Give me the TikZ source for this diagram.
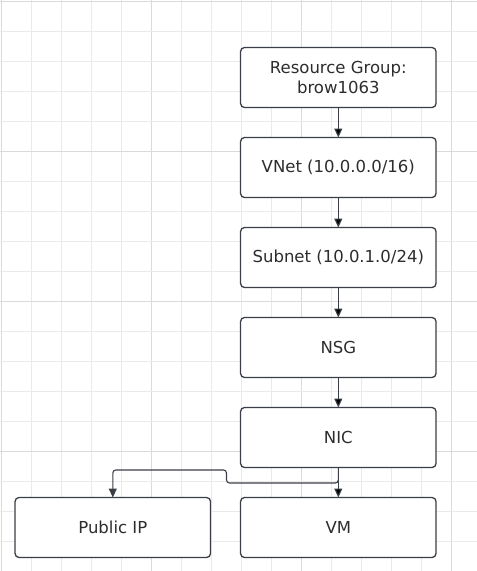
\documentclass[tikz,border=0pt]{standalone}
\usepackage{fontspec}
\setmainfont{DejaVu Sans}
\usetikzlibrary{positioning}
\usetikzlibrary{arrows.meta}
\definecolor{boxline}{RGB}{58,62,70}
\definecolor{boxtext}{RGB}{45,45,45}
\definecolor{minorgrid}{RGB}{234,234,234}
\definecolor{majorgrid}{RGB}{218,218,218}
\def\mybwidth{195.5pt}
\def\mybheight{60pt}
\tikzset{
>={Triangle[length=9pt,width=8pt]}, % filled triangle tips
res box/.style={draw=boxline,line width=1.3pt,rounded corners=4pt,fill=white,
  minimum width=\mybwidth,minimum height=\mybheight,inner sep=1mm,outer sep=0pt,
  text=boxtext,font=\fontsize{16.5}{20}\selectfont,align=center},
res link/.style={draw=boxline,line width=1.1pt,->},
minor line/.style={draw=minorgrid,line width=0.9pt},
major line/.style={draw=majorgrid,line width=1pt},
stack/.style={node distance=30pt}
}

\begin{document}
\begin{tikzpicture}[stack]
\useasboundingbox (0,0) rectangle (477pt,-571pt);
% background grid
\foreach \k in {0,...,15}{
  \pgfmathtruncatemacro{\ismajor}{mod(\k,5)==0}
  \ifnum\ismajor=1 \path[major line] (1pt+30*\k pt,0) -- (1pt+30*\k pt,-571pt);
  \else \path[minor line] (1pt+30*\k pt,0) -- (1pt+30*\k pt,-571pt); \fi
}
\foreach \k in {0,...,19}{
  \pgfmathtruncatemacro{\ismajor}{mod(\k,5)==0}
  \ifnum\ismajor=1 \path[major line] (0,-1.5pt-30*\k pt) -- (477pt,-1.5pt-30*\k pt);
  \else \path[minor line] (0,-1.5pt-30*\k pt) -- (477pt,-1.5pt-30*\k pt); \fi
}
\node[res box] (rg) at (338.3pt,-77.5pt) {Resource Group:\\brow1063};
\node[res box,below=of rg] (vnet) {VNet (10.0.0.0/16)};
\node[res box,below=of vnet] (subnet) {Subnet (10.0.1.0/24)};
\node[res box,below=of subnet] (nsg) {NSG};
\node[res box,below=of nsg] (nic) {NIC};
\node[res box,below=of nic] (vm) {VM};
\node[res box,left=30pt of vm] (pip) {Public IP};
\coordinate (jogR) at (226.5pt,-483pt);
\coordinate (jogL) at (226.5pt,-470pt);
\path[res link]
  (rg) edge (vnet)
  (vnet) edge (subnet)
  (subnet) edge (nsg)
  (nsg) edge (nic)
  (nic) edge (vm);
\draw[res link,rounded corners=3pt] (nic.south) |- (jogR) -- (jogL) -| (pip.north);
\end{tikzpicture}
\end{document}
